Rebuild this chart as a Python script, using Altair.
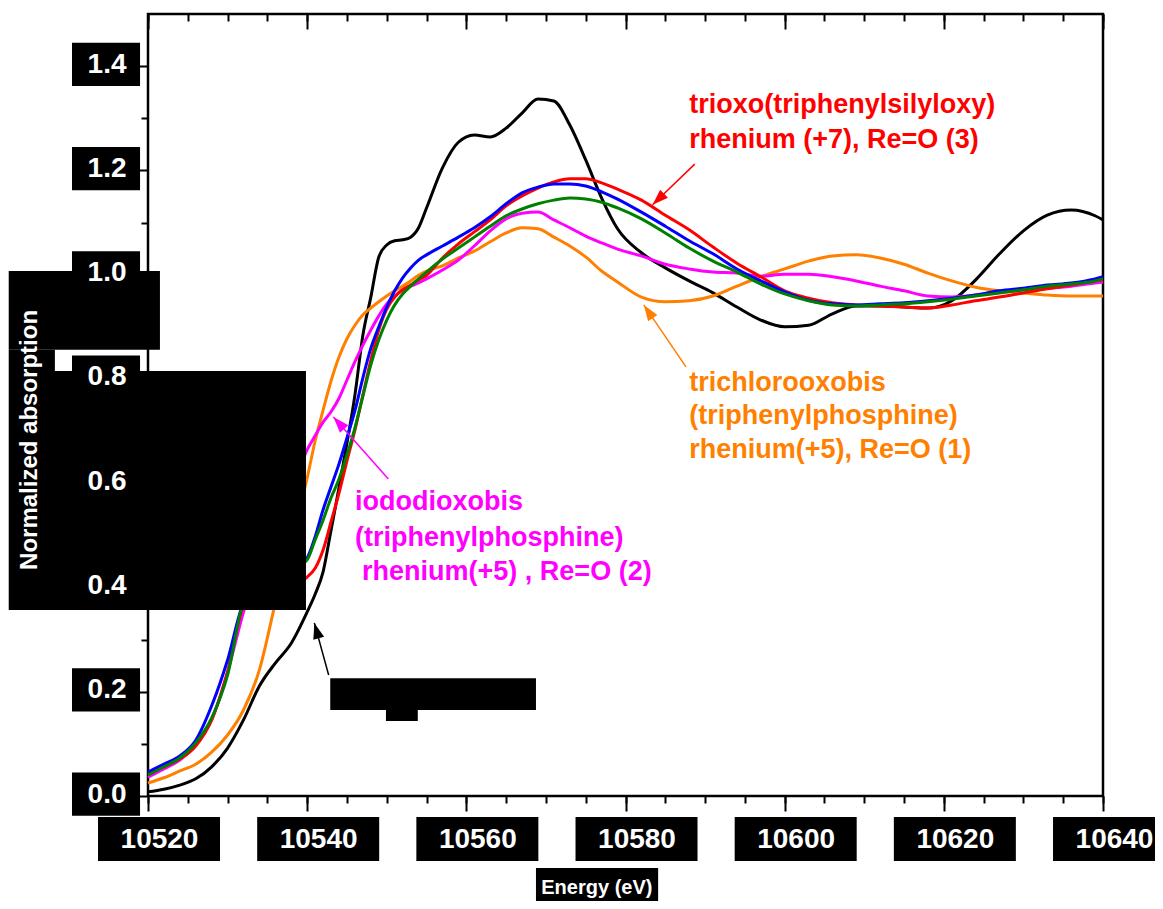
import altair as alt
import pandas as pd

# ---------------- data ----------------
energy = [10520, 10522, 10524, 10526, 10528, 10530, 10532, 10534, 10536, 10538, 10540,
          10541, 10542, 10543, 10544, 10545, 10546, 10547, 10548, 10549, 10550, 10551,
          10552, 10553, 10554, 10555,
          10557, 10559, 10561, 10563, 10565, 10567, 10569, 10571, 10573, 10575, 10577, 10579,
          10582, 10585, 10588, 10591, 10594, 10597, 10600, 10603, 10606, 10609, 10612, 10615,
          10618, 10621, 10624, 10627, 10630, 10633, 10636, 10639, 10640]

black = [0.008, 0.013, 0.021, 0.033, 0.056, 0.092, 0.146, 0.211, 0.255, 0.293, 0.353,
         0.387, 0.430, 0.510, 0.591, 0.677, 0.769, 0.884, 0.957, 1.034, 1.057, 1.065, 1.067, 1.072, 1.090, 1.128,
         1.205, 1.254, 1.268, 1.264, 1.281, 1.310, 1.337, 1.333, 1.287, 1.220, 1.147, 1.088,
         1.042, 1.013, 0.988, 0.965, 0.938, 0.913, 0.900, 0.903, 0.925, 0.940, 0.940, 0.938, 0.936, 0.950,
         0.990, 1.040, 1.084, 1.114, 1.124, 1.113,
         1.105]

red = [0.044, 0.056, 0.071, 0.096, 0.146, 0.238, 0.363, 0.382, 0.395, 0.405, 0.420,
       0.437, 0.472, 0.526, 0.581, 0.643, 0.702, 0.769, 0.836, 0.894, 0.934, 0.957, 0.971, 0.980, 0.990, 0.999,
       1.032, 1.059, 1.082, 1.105, 1.132, 1.151, 1.166, 1.178, 1.184, 1.184, 1.176, 1.164,
       1.143, 1.114, 1.086, 1.053, 1.022, 0.996, 0.969, 0.955, 0.946, 0.942, 0.940, 0.938, 0.936, 0.942,
       0.950, 0.957, 0.965, 0.973, 0.980, 0.988,
       0.990]

blue = [0.046, 0.061, 0.077, 0.107, 0.173, 0.261, 0.370, 0.399, 0.418, 0.434, 0.457,
        0.497, 0.549, 0.593, 0.637, 0.687, 0.739, 0.802, 0.859, 0.900, 0.938, 0.969, 0.994, 1.013, 1.028, 1.038,
        1.055, 1.072, 1.090, 1.111, 1.136, 1.157, 1.168, 1.174, 1.174, 1.170, 1.159, 1.145,
        1.120, 1.093, 1.065, 1.040, 1.011, 0.988, 0.967, 0.951, 0.944, 0.942, 0.944, 0.946, 0.950, 0.955,
        0.961, 0.969, 0.974, 0.980, 0.984, 0.992,
        0.996]

green = [0.040, 0.056, 0.073, 0.102, 0.150, 0.232, 0.370, 0.399, 0.418, 0.434, 0.453,
         0.491, 0.529, 0.572, 0.608, 0.654, 0.706, 0.767, 0.827, 0.875, 0.913, 0.942, 0.963, 0.978, 0.992, 1.005,
         1.030, 1.051, 1.072, 1.093, 1.113, 1.126, 1.136, 1.143, 1.147, 1.145, 1.139, 1.128,
         1.107, 1.080, 1.051, 1.026, 1.005, 0.982, 0.963, 0.950, 0.942, 0.940, 0.942, 0.944, 0.948, 0.953,
         0.959, 0.965, 0.971, 0.978, 0.982, 0.988,
         0.992]

magenta = [0.036, 0.052, 0.069, 0.098, 0.146, 0.238, 0.353, 0.443, 0.516, 0.587, 0.664,
           0.691, 0.717, 0.737, 0.763, 0.798, 0.833, 0.865, 0.894, 0.921, 0.944, 0.959, 0.971, 0.978, 0.984, 0.992,
           1.009, 1.028, 1.055, 1.084, 1.107, 1.118, 1.120, 1.105, 1.090, 1.074, 1.061, 1.049,
           1.036, 1.020, 1.011, 1.005, 1.003, 0.997, 1.001, 1.001, 0.996, 0.988, 0.978, 0.969, 0.959, 0.957,
           0.961, 0.967, 0.971, 0.974, 0.978, 0.984,
           0.986]

orange = [0.025, 0.035, 0.048, 0.061, 0.084, 0.117, 0.165, 0.242, 0.370, 0.491, 0.610,
          0.681, 0.740, 0.796, 0.842, 0.877, 0.903, 0.923, 0.936, 0.948, 0.959, 0.969, 0.978, 0.988, 0.999, 1.007,
          1.017, 1.032, 1.045, 1.063, 1.080, 1.090, 1.088, 1.072, 1.055, 1.034, 1.007, 0.986,
          0.957, 0.948, 0.950, 0.959, 0.978, 0.996, 1.011, 1.026, 1.036, 1.038, 1.032, 1.020, 1.003, 0.988,
          0.976, 0.969, 0.965, 0.961, 0.959, 0.959,
          0.959]

x_major = [10520, 10540, 10560, 10580, 10600, 10620, 10640]
x_minor = list(range(10520, 10641, 5))
y_major = [0.0, 0.2, 0.4, 0.6, 0.8, 1.0, 1.2, 1.4]
y_minor = [0.1, 0.3, 0.5, 0.7, 0.9, 1.1, 1.3]

x_title = "Energy (eV)"
y_title = "Normalized absorption"

labels = [
    ["trioxo(triphenylsilyloxy)", 10588.0, 1.310, "#ff0000"],
    ["rhenium (+7), Re=O (3)", 10588.0, 1.243, "#ff0000"],
    ["trichlorooxobis", 10588.0, 0.777, "#ff8000"],
    ["(triphenylphosphine)", 10588.0, 0.713, "#ff8000"],
    ["rhenium(+5), Re=O (1)", 10588.0, 0.648, "#ff8000"],
    ["iododioxobis", 10546.0, 0.549, "#ff00ff"],
    ["(triphenylphosphine)", 10546.0, 0.480, "#ff00ff"],
    ["rhenium(+5) , Re=O (2)", 10546.9, 0.415, "#ff00ff"],
]

# arrows: start (x, y), tip (x, y), heading angle, colour
arrows = [
    [10588.7, 1.212, 10583.4, 1.134, 226, "#ff0000"],
    [10587.6, 0.823, 10582.3, 0.942, 326, "#ff8000"],
    [10550.2, 0.608, 10543.3, 0.727, 318, "#ff00ff"],
    [10542.7, 0.232, 10540.9, 0.332, 344, "#000000"],
]

# redacted (blacked-out) regions of the source picture
redacted = [
    [10502.5, 10521.5, 0.856, 1.007],
    [10502.5, 10508.3, 0.815, 0.856],
    [10502.5, 10539.85, 0.357, 0.815],
    [10542.9, 10568.75, 0.165, 0.226],
    [10549.9, 10553.9, 0.144, 0.165],
    [10568.75, 10584.1, -0.217, -0.138],
]
for v in y_major:
    redacted.append([10510.45, 10519.0, v - 0.038, v + 0.045])
for v in x_major:
    redacted.append([v - 6.28, v + 9.05, -0.1247, -0.0403])

# ---------------- chart ----------------
FONT = "Liberation Sans"
XS = alt.Scale(domain=[10520, 10640], nice=False, zero=False)
YS = alt.Scale(domain=[0, 1.5], nice=False, zero=False)

common = dict(domain=False, grid=False, title=None, tickColor="black", tickWidth=2)

ax_x_major = alt.Axis(orient="bottom", values=x_major, format="d", tickSize=15,
                      labelColor="white", labelFont=FONT, labelFontWeight="bold",
                      labelFontSize=28, labelPadding=28, labelBaseline="middle",
                      labelOffset=11, labelFlush=False, labelOverlap=False, zindex=1, **common)
ax_x_minor = alt.Axis(orient="bottom", values=x_minor, tickSize=7, labels=False, **common)
ax_top_major = alt.Axis(orient="top", values=x_major, tickSize=15, offset=-15, labels=False, **common)
ax_top_minor = alt.Axis(orient="top", values=x_minor, tickSize=7, offset=-7, labels=False, **common)
ax_y_major = alt.Axis(orient="left", values=y_major, format=".1f", tickSize=15,
                      labelColor="white", labelFont=FONT, labelFontWeight="bold",
                      labelFontSize=28, labelPadding=7, labelOffset=-2,
                      labelOverlap=False, labelFlush=False, zindex=1, **common)
ax_y_minor = alt.Axis(orient="left", values=y_minor, tickSize=7, labels=False, **common)

series = [
    ("black", black, "#000000", ax_x_major, ax_y_major),
    ("orange", orange, "#ff8000", ax_x_minor, ax_y_minor),
    ("magenta", magenta, "#ff00ff", ax_top_major, None),
    ("red", red, "#ff0000", ax_top_minor, None),
    ("blue", blue, "#0000ff", None, None),
    ("green", green, "#008000", None, None),
]

layers = []
for name, vals, col, axx, axy in series:
    df = pd.DataFrame({"energy": energy, "value": vals})
    layers.append(
        alt.Chart(df).mark_line(color=col, strokeWidth=3, interpolate="monotone").encode(
            x=alt.X("energy:Q", scale=XS, axis=axx),
            y=alt.Y("value:Q", scale=YS, axis=axy),
        )
    )

adf = pd.DataFrame(arrows, columns=["x0", "y0", "x1", "y1", "ang", "col"])
layers.append(
    alt.Chart(adf).mark_rule(strokeWidth=1.5).encode(
        x=alt.X("x0:Q", scale=XS, axis=None), y=alt.Y("y0:Q", scale=YS, axis=None),
        x2="x1:Q", y2="y1:Q", color=alt.Color("col:N", scale=None),
    )
)
layers.append(
    alt.Chart(adf).mark_point(shape="M0,0L0.7,2L-0.7,2Z", filled=True, size=256, opacity=1).encode(
        x=alt.X("x1:Q", scale=XS, axis=None), y=alt.Y("y1:Q", scale=YS, axis=None),
        angle=alt.Angle("ang:Q", scale=None), color=alt.Color("col:N", scale=None),
    )
)

ldf = pd.DataFrame(labels, columns=["text", "x", "y", "col"])
layers.append(
    alt.Chart(ldf).mark_text(align="left", baseline="alphabetic", font=FONT,
                             fontWeight="bold", fontSize=27).encode(
        x=alt.X("x:Q", scale=XS, axis=None), y=alt.Y("y:Q", scale=YS, axis=None),
        text="text:N", color=alt.Color("col:N", scale=None),
    )
)

rdf = pd.DataFrame(redacted, columns=["x0", "x1", "y0", "y1"])
layers.append(
    alt.Chart(rdf).mark_rect(color="black").encode(
        x=alt.X("x0:Q", scale=XS, axis=None), x2="x1:Q",
        y=alt.Y("y0:Q", scale=YS, axis=None), y2="y1:Q",
    )
)

tdf = pd.DataFrame({"text": [y_title], "x": [10505.2], "y": [0.683]})
layers.append(
    alt.Chart(tdf).mark_text(angle=270, align="center", baseline="middle", font=FONT,
                             fontWeight="bold", fontSize=24, color="white").encode(
        x=alt.X("x:Q", scale=XS, axis=None), y=alt.Y("y:Q", scale=YS, axis=None), text="text:N",
    )
)
xdf = pd.DataFrame({"text": [x_title], "x": [10576.4], "y": [-0.1765]})
layers.append(
    alt.Chart(xdf).mark_text(align="center", baseline="middle", font=FONT,
                             fontWeight="bold", fontSize=20, color="white").encode(
        x=alt.X("x:Q", scale=XS, axis=None), y=alt.Y("y:Q", scale=YS, axis=None), text="text:N",
    )
)

chart = (
    alt.layer(*layers)
    .resolve_axis(x="independent", y="independent")
    .properties(
        width=955, height=782,
        autosize=alt.AutoSizeParams(type="none"),
        padding={"left": 140, "top": 6, "right": 52, "bottom": 105},
        background="white",
    )
    .configure_view(stroke="black", strokeWidth=2.5)
)

chart.save("out.html", embed_options={"renderer": "svg", "actions": False})
